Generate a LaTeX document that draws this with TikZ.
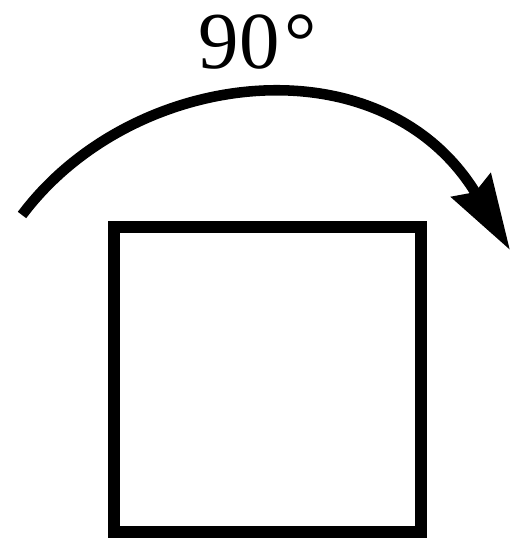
\documentclass[tikz,border=0pt]{standalone}
\usepackage{fontspec}
\setmainfont{Liberation Serif}
\usetikzlibrary{arrows.meta}
\tikzset{
  rotbox/.style={rectangle, draw=black, line width=6.8pt, fill=white,
                 minimum width=6.14cm, minimum height=6.1cm, inner sep=0pt},
  rotarrow/.style={-{Stealth[length=1.5cm, width=0.9cm, inset=0.15cm]}, line width=6pt},
}

\begin{document}
\begin{tikzpicture}[x=0.02cm, y=-0.02cm,
  anglabel/.style={font=\fontsize{46}{50}\selectfont, inner sep=0pt, anchor=base}]
  \useasboundingbox (0,0) rectangle (510,538);
  \node[rotbox](square) at (267.5,379.5){};
  \node[anglabel](angle) at (258,68){90\kern3pt°};
  \coordinate (start) at (22,215);
  \coordinate (end) at (510,250);
  \draw[rotarrow](start) .. controls (133,67) and (383,39) .. (end);
\end{tikzpicture}
\end{document}
